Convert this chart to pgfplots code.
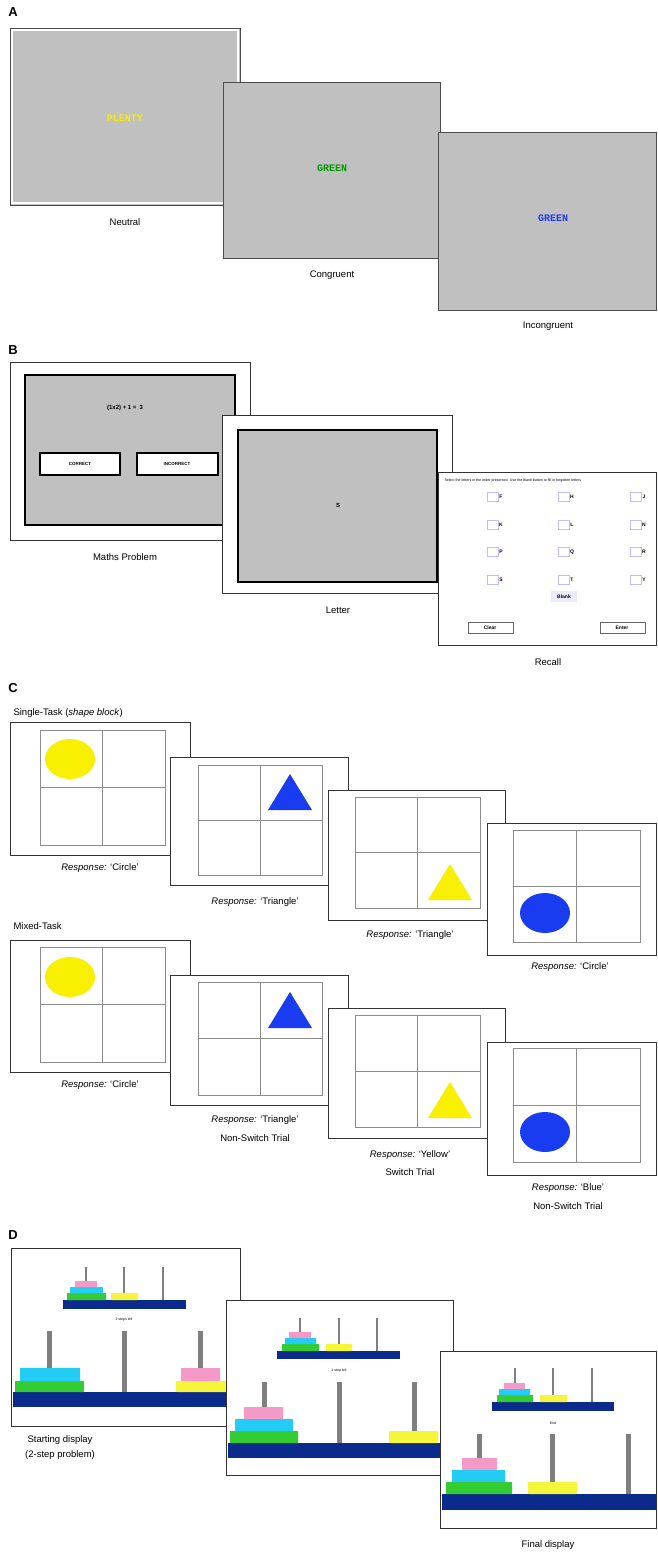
\documentclass[border=0pt]{standalone}
\usepackage{pgfplots}
\pgfplotsset{compat=1.18}
\usepackage{fontspec}
\setmainfont{Liberation Sans}
\newfontfamily\monof{Liberation Mono}
\definecolor{dblue}{HTML}{0A2A8C}
\definecolor{dgreen}{HTML}{33CC33}
\definecolor{dcyan}{HTML}{22CCF5}
\definecolor{dpink}{HTML}{F59AC8}
\definecolor{dyellow}{HTML}{F5F53A}
\definecolor{peg}{HTML}{7F7F7F}
\definecolor{sgray}{HTML}{C0C0C0}
\definecolor{shblue}{HTML}{1A3CF0}
\definecolor{shyel}{HTML}{F8F000}
\newcommand{\R}[5]{\fill[#1] (axis cs:#2,#3) rectangle (axis cs:#4,#5);}
\newcommand{\frm}[4]{\filldraw[fill=white,draw=black!80,line width=0.8pt] (axis cs:#1,#2) rectangle (axis cs:#3,#4);}
\newcommand{\lab}[3]{\node[font=\fontsize{9.5}{11}\selectfont] at (axis cs:#1,#2) {#3};}
\newcommand{\grid}[4]{\draw[black!45,line width=0.5pt] (axis cs:#1,#2) rectangle (axis cs:#3,#4);
 \draw[black!45,line width=0.5pt] (axis cs:{(#1+#3)/2},#2) -- (axis cs:{(#1+#3)/2},#4);
 \draw[black!45,line width=0.5pt] (axis cs:#1,{(#2+#4)/2}) -- (axis cs:#3,{(#2+#4)/2});}
\newcommand{\tri}[3]{\fill[#3] (axis cs:#1-22,#2+18) -- (axis cs:#1+22,#2+18) -- (axis cs:#1,#2-18) -- cycle;}
\newcommand{\circl}[3]{\fill[#3] (axis cs:#1,#2) ellipse [x radius=25pt, y radius=20pt];}
\newcommand{\disc}[5]{\fill[#1,rounded corners=0.6pt] (axis cs:#2,#3) rectangle (axis cs:#4,#5);}
\newcommand{\pg}[4]{\fill[peg] (axis cs:#1-#4,#2) rectangle (axis cs:#1+#4,#3);}
\newcommand{\pegs}[6]{\pg{#1}{#4}{#5}{#6}\pg{#2}{#4}{#5}{#6}\pg{#3}{#4}{#5}{#6}}
\newcommand{\cb}[3]{\draw[blue!25] (axis cs:#1,#2-4.5) rectangle (axis cs:#1+11,#2+4.5); \node[font=\bfseries\fontsize{5}{6}\selectfont] at (axis cs:#1+14,#2) {#3};}
\newcommand{\cbrow}[4]{\cb{487}{#1}{#2}\cb{558}{#1}{#3}\cb{630}{#1}{#4}}
\begin{document}
\begin{tikzpicture}
\begin{axis}[width=657pt,height=1555pt,scale only axis,xmin=0,xmax=657,ymin=0,ymax=1555,y dir=reverse,axis lines=none,clip=false]
% ---- A
\node[font=\bfseries\fontsize{13}{14}\selectfont] at (axis cs:13,12) {A};
\filldraw[fill=sgray,draw=black!70,line width=0.8pt] (axis cs:10,28) rectangle (axis cs:240,205);
\draw[white,line width=1.5pt] (axis cs:12,30) rectangle (axis cs:238,203);
\node[font=\monof\bfseries\fontsize{10}{11}\selectfont,text=shyel] at (axis cs:125,118) {PLENTY};
\lab{125}{222}{Neutral}
\filldraw[fill=sgray,draw=black!70,line width=0.8pt] (axis cs:223,82) rectangle (axis cs:440,258);
\node[font=\monof\bfseries\fontsize{10}{11}\selectfont,text=green!60!black] at (axis cs:332,168) {GREEN};
\lab{332}{275}{Congruent}
\filldraw[fill=sgray,draw=black!70,line width=0.8pt] (axis cs:438,132) rectangle (axis cs:656.5,310);
\node[font=\monof\bfseries\fontsize{10}{11}\selectfont,text=shblue] at (axis cs:553,218) {GREEN};
\lab{548}{326}{Incongruent}
% ---- B
\node[font=\bfseries\fontsize{13}{14}\selectfont] at (axis cs:13,350) {B};
\frm{10}{362}{250}{540}
\filldraw[fill=sgray,draw=black,line width=2pt] (axis cs:25,375) rectangle (axis cs:235,525);
\node[font=\bfseries\fontsize{6}{7}\selectfont] at (axis cs:125,408) {(1x2) + 1 =\enspace 3};
\filldraw[fill=white,draw=black,line width=1.5pt] (axis cs:40,453) rectangle (axis cs:120,475);
\node[font=\bfseries\fontsize{4.5}{5}\selectfont] at (axis cs:80,464) {CORRECT};
\filldraw[fill=white,draw=black,line width=1.5pt] (axis cs:137,453) rectangle (axis cs:218,475);
\node[font=\bfseries\fontsize{4.5}{5}\selectfont] at (axis cs:177,464) {INCORRECT};
\lab{125}{557}{Maths Problem}
\frm{222}{415}{452}{593}
\filldraw[fill=sgray,draw=black,line width=2pt] (axis cs:238,430) rectangle (axis cs:437,582);
\node[font=\bfseries\fontsize{6}{7}\selectfont] at (axis cs:338,505) {S};
\lab{338}{610}{Letter}
\frm{438}{472}{656.5}{645}
\node[font=\fontsize{3.6}{4}\selectfont,anchor=west] at (axis cs:441,481) {Select the letters in the order presented. Use the blank button to fill in forgotten letters};
\cbrow{497}{F}{H}{J}
\cbrow{525}{K}{L}{N}
\cbrow{552}{P}{Q}{R}
\cbrow{580}{S}{T}{Y}
\fill[blue!8] (axis cs:551,591) rectangle (axis cs:577,602);
\node[font=\bfseries\fontsize{5}{6}\selectfont] at (axis cs:564,597) {Blank};
\draw[black!60] (axis cs:468,622) rectangle (axis cs:513,633);
\node[font=\bfseries\fontsize{5}{6}\selectfont] at (axis cs:490,627.5) {Clear};
\draw[black!60] (axis cs:600,622) rectangle (axis cs:645,633);
\node[font=\bfseries\fontsize{5}{6}\selectfont] at (axis cs:622,627.5) {Enter};
\lab{548}{662}{Recall}
% ---- C
\node[font=\bfseries\fontsize{13}{14}\selectfont] at (axis cs:13,688) {C};
\node[font=\fontsize{9.5}{11}\selectfont,anchor=west] at (axis cs:10,713) {Single-Task (\textit{shape block})};
\frm{10}{722}{190}{855} \grid{40}{730}{165}{845} \circl{70}{759}{shyel}
\lab{100}{868}{\textit{Response:} `Circle'}
\frm{170}{757}{348}{885} \grid{198}{765}{322}{875} \tri{290}{792}{shblue}
\lab{255}{902}{\textit{Response:} `Triangle'}
\frm{328}{790}{505}{920} \grid{355}{797}{480}{908} \tri{450}{882}{shyel}
\lab{410}{935}{\textit{Response:} `Triangle'}
\frm{487}{823}{656.5}{955} \grid{513}{830}{640}{942} \circl{545}{913}{shblue}
\lab{570}{967}{\textit{Response:} `Circle'}
\node[font=\fontsize{9.5}{11}\selectfont,anchor=west] at (axis cs:10,926) {Mixed-Task};
\frm{10}{940}{190}{1072} \grid{40}{947}{165}{1062} \circl{70}{977}{shyel}
\lab{100}{1085}{\textit{Response:} `Circle'}
\frm{170}{975}{348}{1105} \grid{198}{982}{322}{1095} \tri{290}{1010}{shblue}
\lab{255}{1120}{\textit{Response:} `Triangle'}
\lab{255}{1138}{Non-Switch Trial}
\frm{328}{1008}{505}{1138} \grid{355}{1015}{480}{1127} \tri{450}{1100}{shyel}
\lab{410}{1155}{\textit{Response:} `Yellow'}
\lab{410}{1172}{Switch Trial}
\frm{487}{1042}{656.5}{1175} \grid{513}{1048}{640}{1162} \circl{545}{1132}{shblue}
\lab{568}{1188}{\textit{Response:} `Blue'}
\lab{568}{1206}{Non-Switch Trial}
% ---- D
\node[font=\bfseries\fontsize{13}{14}\selectfont] at (axis cs:13,1235) {D};
\frm{11}{1248}{240}{1426}
\pegs{86}{124}{163}{1267}{1300}{1.2}
\R{dblue}{63}{1300}{186}{1309}
\disc{dgreen}{67}{1293}{106}{1300}\disc{dcyan}{70}{1287}{103}{1293}\disc{dpink}{75}{1281}{97}{1287}\disc{dyellow}{111}{1293}{138}{1300}
\node[font=\fontsize{3.5}{4}\selectfont] at (axis cs:124,1320) {2 steps left};
\pegs{49}{124}{200}{1331}{1392}{2.5}
\R{dblue}{13}{1392}{240}{1407}
\disc{dgreen}{15}{1381}{84}{1392}\disc{dcyan}{20}{1368}{80}{1381}\disc{dyellow}{176}{1381}{226}{1392}\disc{dpink}{181}{1368}{220}{1381}
\lab{60}{1440}{Starting display}
\lab{60}{1455}{(2-step problem)}
\frm{226}{1300}{453}{1475}
\pegs{300}{339}{377}{1318}{1351}{1.2}
\R{dblue}{277}{1351}{400}{1359}
\disc{dgreen}{282}{1344}{319}{1351}\disc{dcyan}{285}{1338}{316}{1344}\disc{dpink}{289}{1332}{311}{1338}\disc{dyellow}{326}{1344}{352}{1351}
\node[font=\fontsize{3.5}{4}\selectfont] at (axis cs:339,1371) {1 step left};
\pegs{264}{339}{414}{1382}{1443}{2.5}
\R{dblue}{228}{1443}{453}{1458}
\disc{dpink}{244}{1407}{283}{1419}\disc{dcyan}{235}{1419}{293}{1431}\disc{dgreen}{230}{1431}{298}{1443}\disc{dyellow}{389}{1431}{438}{1443}
\frm{440}{1351}{656.5}{1528}
\pegs{515}{553}{592}{1368}{1402}{1.2}
\R{dblue}{492}{1402}{614}{1411}
\disc{dgreen}{497}{1395}{533}{1402}\disc{dcyan}{499}{1389}{530}{1395}\disc{dpink}{504}{1383}{525}{1389}\disc{dyellow}{540}{1395}{567}{1402}
\node[font=\fontsize{3.5}{4}\selectfont] at (axis cs:553,1423) {End};
\pegs{479}{552}{628}{1434}{1494}{2.5}
\R{dblue}{442}{1494}{656}{1510}
\disc{dpink}{462}{1458}{497}{1470}\disc{dcyan}{452}{1470}{505}{1482}\disc{dgreen}{446}{1482}{512}{1494}\disc{dyellow}{528}{1482}{577}{1494}
\lab{548}{1545}{Final display}
\end{axis}
\pgfresetboundingbox
\path[use as bounding box] (current axis.south west) rectangle (current axis.north east);
\end{tikzpicture}
\end{document}
